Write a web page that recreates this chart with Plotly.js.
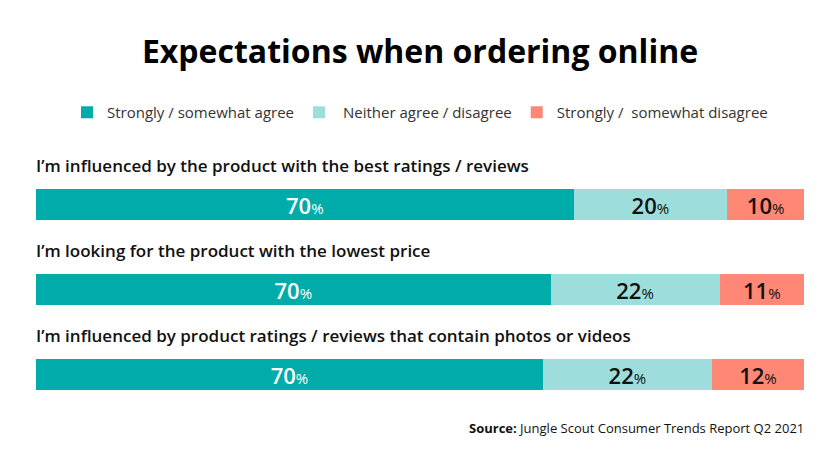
<!DOCTYPE html>
<html>
<head>
<meta charset="utf-8">
<script src="https://cdn.plot.ly/plotly-3.0.1.min.js"></script>
<style>
  html, body { margin: 0; padding: 0; background: #fff; }
  #chart { width: 840px; height: 467px; }
</style>
</head>
<body>
<div id="chart"></div>
<script>
// questions (one bar each)
const questions = [
    "I’m influenced by the product with the best ratings / reviews",
    "I’m looking for the product with the lowest price",
    "I’m influenced by product ratings / reviews that contain photos or videos"
];
const seriesNames = ["Strongly / somewhat agree", " Neither agree / disagree", "Strongly /  somewhat disagree"];

// bar lengths as drawn
const agree = [70, 67, 66];
const neutral = [20, 22, 22];
const disagree = [10, 11, 12];

// numbers printed on the bars
const agreeLabels = ["70", "70", "70"];
const neutralLabels = ["20", "22", "22"];
const disagreeLabels = ["10", "11", "12"];

const colors = ["#00aca9", "#9ddedd", "#ff8775"];
const FONT = "Open Sans, sans-serif";

function makeTrace(values, labels, name, color, textColor) {
    return {
        type: "bar",
        orientation: "h",
        y: questions,
        x: values,
        name: name,
        text: labels,
        texttemplate: "%{text}<span style='font-size:15px;font-weight:400'>%</span>",
        textposition: "inside",
        insidetextanchor: "middle",
        textangle: 0,
        constraintext: "none",
        insidetextfont: {family: FONT, size: 22, color: textColor, weight: 600},
        marker: {color: color, line: {width: 0}},
        hoverinfo: "none",
        width: 0.37
    };
}

const data = [
    makeTrace(agree, agreeLabels, seriesNames[0], colors[0], "#ffffff"),
    makeTrace(neutral, neutralLabels, seriesNames[1], colors[1], "#111111"),
    makeTrace(disagree, disagreeLabels, seriesNames[2], colors[2], "#111111")
];

const annotations = questions.map(q => ({
    text: q,
    x: 0, xref: "paper", xanchor: "left", xshift: -2,
    y: q, yref: "y", yanchor: "middle", yshift: 39,
    showarrow: false,
    font: {family: FONT, size: 17, color: "#111", weight: 600}
}));

annotations.push({
    text: "<b>Source:</b> Jungle Scout Consumer Trends Report Q2 2021",
    x: 1, xref: "paper", xanchor: "right", xshift: 2,
    y: 0, yref: "paper", yanchor: "top", yshift: 0,
    showarrow: false,
    font: {family: FONT, size: 13, color: "#111"}
});

const layout = {
    width: 840,
    height: 467,
    margin: {l: 36, r: 36, t: 162, b: 50, autoexpand: false},
    paper_bgcolor: "#fff",
    plot_bgcolor: "#fff",
    barmode: "stack",
    bargap: 0,
    title: {
        text: "<b>Expectations when ordering online</b>",
        x: 0.5, xanchor: "center",
        y: 0.889, yanchor: "middle", yref: "container",
        font: {family: FONT, size: 32, color: "#000"}
    },
    showlegend: true,
    legend: {
        orientation: "h",
        x: 0.5, xanchor: "center",
        y: 1.194, yanchor: "middle",
        font: {family: FONT, size: 15, color: "#333"},
        traceorder: "normal",
        itemclick: false
    },
    xaxis: {
        range: [0, 100],
        showgrid: false, zeroline: false, showticklabels: false, fixedrange: true
    },
    yaxis: {
        type: "category",
        range: [2.5, -0.5],
        showgrid: false, zeroline: false, showticklabels: false, fixedrange: true
    },
    annotations: annotations
};

Plotly.newPlot("chart", data, layout, {displayModeBar: false, staticPlot: true});
</script>
</body>
</html>
